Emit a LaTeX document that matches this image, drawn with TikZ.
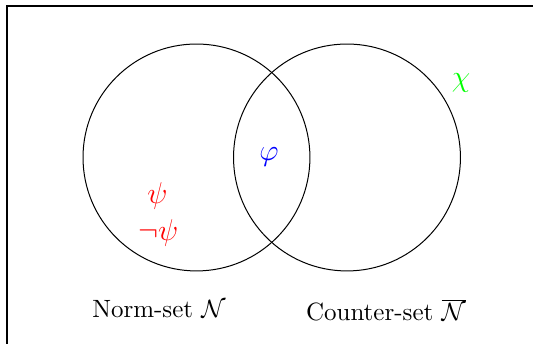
\documentclass[tikz,border=0pt]{standalone}
\usepackage{amsmath,amssymb,amsfonts}
\usepackage{tikz}
\usetikzlibrary{positioning}
\usepackage{xcolor}
\definecolor{setred}{RGB}{255,0,0}
\definecolor{setblue}{RGB}{0,0,255}
\definecolor{setgreen}{RGB}{0,255,0}
\newcommand{\Nset}{\mathcal{N}}

\begin{document}
\begin{tikzpicture}[
    set/.style={circle, draw=black, thin, minimum size=3.19cm, inner sep=0pt},
    fm/.style={font=\large, inner sep=1pt},
    lb/.style={font=\normalsize, inner sep=1pt},
    frm/.style={draw=black, thick}
]
\useasboundingbox (0,0) rectangle (7.493,4.836);
\draw[frm] (0.105,0) -- (0.105,4.745) -- (7.493,4.745);

\node[set] (norm)    at (2.762,2.622) {};
\node[set] (counter) at (4.878,2.622) {};

\node[fm, setblue]  (phi)    at (3.782,2.629) {$\varphi$};
\node[fm, setred]   (psi)    at (2.215,2.081) {$\psi$};
\node[fm, setred]   (negpsi) at (2.225,1.560) {$\neg\psi$};
\node[fm, setgreen] (chi)    at (6.481,3.669) {$\chi$};

\node[lb] (normlbl)    at (2.235,0.492) {Norm-set $\Nset$};
\node[lb] (counterlbl) at (5.426,0.478) {Counter-set $\overline{\Nset}$};
\end{tikzpicture}
\end{document}
